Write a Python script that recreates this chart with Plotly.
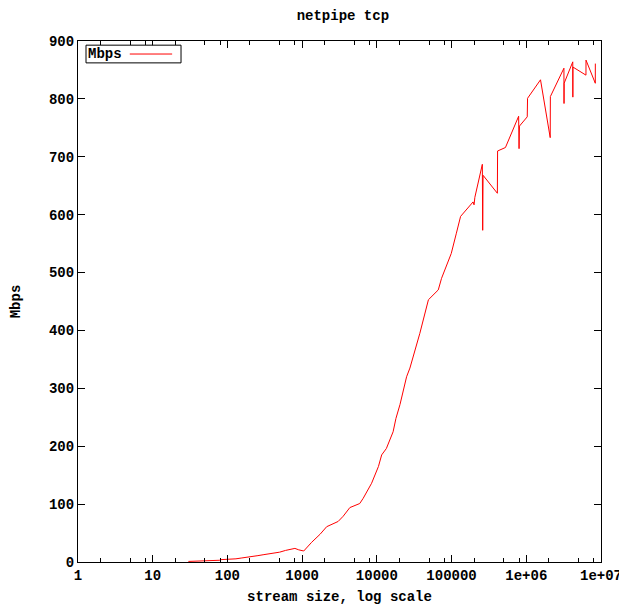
import plotly.graph_objects as go

# stream size (bytes) and throughput (Mbps)
sizes = [30, 40, 50, 64, 79, 80, 100, 130, 156, 200, 220, 256, 300, 400, 500,
         600, 700, 760, 800, 900, 1050, 1340, 1740, 2130, 3030, 3540, 4350,
         5900, 6560, 8500, 10500, 11600, 13400, 16500, 18000, 20400, 25000,
         27700, 37600, 49000, 66400, 73400, 99000, 116000, 132000, 194000,
         200000, 205000, 258000, 261000, 264000, 410000, 413000, 526000,
         790000, 800000, 810000, 1030000, 1040000, 1550000, 2090000, 2100000,
         3190000, 3200000, 3210000, 4190000, 4200000, 4210000, 6290000,
         6300000, 8390000, 8400000]
mbps = [1, 1.5, 2, 2.5, 3, 4, 4.5, 5.5, 7, 8.5, 9, 11, 12.5, 15, 17,
        20, 22, 24, 23.5, 21, 19, 34, 48, 61, 70, 79, 94,
        101, 110, 136, 165, 185, 196, 225, 248, 272, 320,
        335, 395, 453, 470, 490, 533, 568, 597, 622,
        617, 630, 687, 573, 668, 637, 710, 716,
        770, 714, 753, 769, 801, 833, 733, 804,
        853, 792, 827, 864, 803, 855, 841,
        867, 827, 861]

series_name = "Mbps"
x_tickvals = [1, 10, 100, 1000, 10000, 100000, 1000000, 10000000]
x_ticktext = ["1", "10", "100", "1000", "10000", "100000", "1e+06", "1e+07"]
x_minor = [m * 10 ** d for d in range(7) for m in (2, 5, 8)]
y_tickvals = [0, 100, 200, 300, 400, 500, 600, 700, 800, 900]

FONT = "Liberation Mono"
F = dict(family=FONT, size=14, color="black", weight="bold")

fig = go.Figure()
fig.add_trace(go.Scatter(x=sizes, y=mbps, mode="lines", name=series_name,
                         line=dict(color="#ff0000", width=1), showlegend=False))

# gnuplot-style key: label first, then line sample, inside a box
fig.add_shape(type="rect", xref="paper", yref="paper",
              x0=0.0153, x1=0.197, y0=0.958, y1=0.992,
              line=dict(color="black", width=1), fillcolor="white", layer="above")
fig.add_shape(type="line", xref="paper", yref="paper",
              x0=0.099, x1=0.18, y0=0.975, y1=0.975,
              line=dict(color="#ff0000", width=1), layer="above")
fig.add_annotation(text=series_name, xref="paper", yref="paper",
                   x=0.016, y=0.975, xanchor="left", yanchor="middle",
                   showarrow=False, font=F)

# the page body adds an 8 px offset, so the figure is 8 px smaller each way
fig.update_layout(
    width=619, height=604,
    margin=dict(l=70, r=26, t=33, b=50, autoexpand=False),
    paper_bgcolor="white", plot_bgcolor="white",
    font=F,
    title=dict(text="netpipe tcp", x=0.541, xanchor="center", y=0.989,
               yanchor="middle", font=F),
    showlegend=False,
    xaxis=dict(type="log", range=[0, 7], tickmode="array", automargin=False,
               tickvals=x_tickvals, ticktext=x_ticktext,
               ticks="inside", ticklen=7, tickcolor="black", tickwidth=1,
               showline=True, linecolor="black", linewidth=1, mirror="allticks",
               showgrid=False, zeroline=False,
               minor=dict(tickmode="array", tickvals=x_minor, ticks="inside",
                          ticklen=4, tickcolor="black", showgrid=False),
               title=dict(text="stream size, log scale", standoff=8, font=F),
               tickfont=F),
    yaxis=dict(range=[0, 900], tickmode="array", tickvals=y_tickvals, automargin=False,
               ticks="inside", ticklen=7, tickcolor="black", tickwidth=1,
               showline=True, linecolor="black", linewidth=1, mirror="allticks",
               showgrid=False, zeroline=False,
               title=dict(text="Mbps", standoff=25, font=F),
               tickfont=F),
)

fig.write_html("out.html")
